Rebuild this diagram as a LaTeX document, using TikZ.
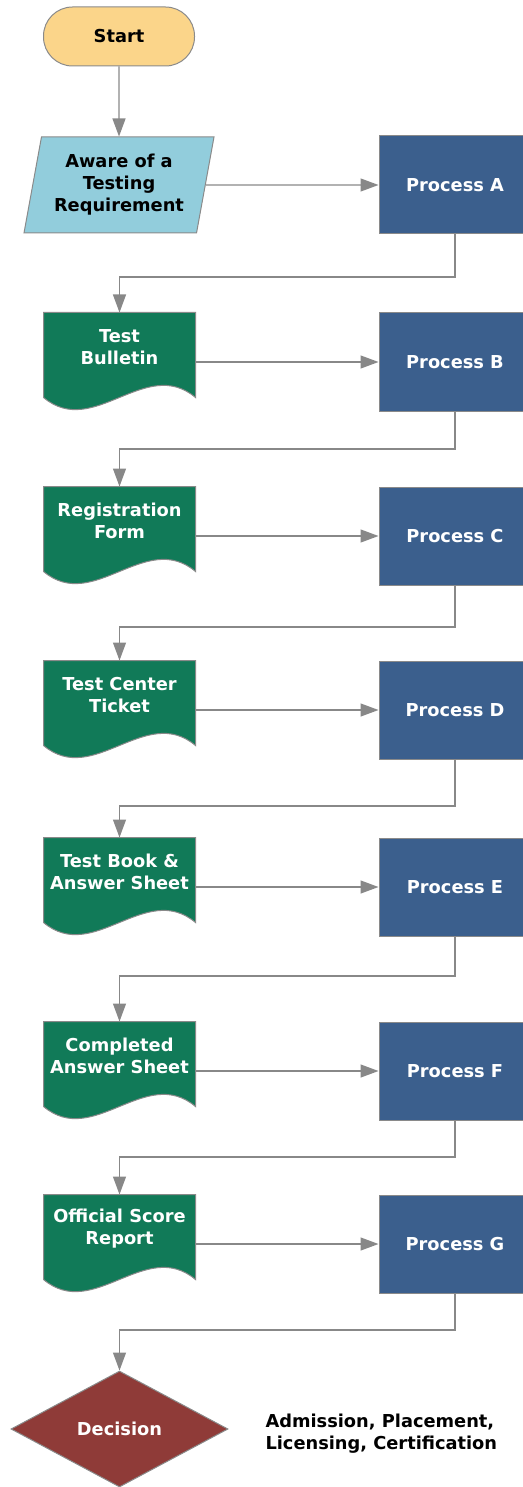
\documentclass[tikz,border=0pt]{standalone}
\usepackage{fontspec}
\setmainfont{DejaVu Sans}
\usetikzlibrary{shapes.geometric,arrows.meta,backgrounds}

\definecolor{startfill}{HTML}{FBD58A}
\definecolor{inputfill}{HTML}{92CDDC}
\definecolor{docfill}{HTML}{117A58}
\definecolor{procfill}{HTML}{3B5F8D}
\definecolor{decfill}{HTML}{8F3B38}
\definecolor{boxline}{HTML}{8A8A8A}
\definecolor{connline}{HTML}{888888}

\tikzset{
  box/.style={draw=boxline, line width=1pt, inner sep=2pt, align=center,
    font=\bfseries\fontsize{17.8}{22}\selectfont},
  terminal/.style={box, fill=startfill, rounded corners=29pt,
    minimum width=151pt, minimum height=59pt},
  inputbox/.style={box, trapezium, trapezium left angle=75, trapezium right angle=105,
    trapezium stretches body, fill=inputfill, minimum width=190pt, minimum height=96pt},
  procbox/.style={box, fill=procfill, text=white, minimum width=152pt, minimum height=98pt},
  docbox/.style={box, draw=none, text=white, minimum width=151pt, minimum height=68pt},
  docshape/.style={draw=boxline, line width=1pt, fill=docfill},
  decision/.style={box, diamond, fill=decfill, text=white, inner sep=0pt,
    minimum width=217pt, minimum height=116pt},
  conn/.style={draw=connline, line width=1.3pt, -{Triangle[length=18pt,width=13pt]}},
}

\begin{document}
\begin{tikzpicture}[x=1pt, y=-1pt]

\useasboundingbox (0,0) rectangle (522,1487);

\node[terminal] (start) at (119,36.5) {Start};
\node[inputbox] (aware) at (119,185) {Aware of a\\Testing\\Requirement};
\node[procbox] (procA) at (455,185) {Process A};

\draw[conn] (start.south) -- (aware.north);
\draw[conn] (aware.east) -- (procA.west);

% one row per document: doc top, connector level
\foreach \p/\q/\y/\cy/\txt in {A/B/313/277/{Test\\Bulletin},
  B/C/487/449/{Registration\\Form},
  C/D/661/627/{Test Center\\Ticket},
  D/E/838/806/{Test Book \&\\Answer Sheet},
  E/F/1022/976/{Completed\\Answer Sheet},
  F/G/1195/1157/{Official Score\\Report}}
{
  \node[docbox] (doc\q) at (119.5,\y+34) {\txt};
  \begin{scope}[on background layer]
    \draw[docshape] (doc\q.north west) -- (doc\q.north east)
      -- ([yshift=-16pt]doc\q.south east) .. controls +(-50,-42) and +(50,42)
      .. ([yshift=-16pt]doc\q.south west) -- cycle;
  \end{scope}
  \node[procbox] (proc\q) at (455,\y+49) {Process \q};
  \draw[conn] (proc\p.south) -- (proc\p.south |- 0,\cy) -| (doc\q.north);
  \draw[conn] (doc\q.east |- proc\q.west) -- (proc\q.west);
}

\node[decision] (decide) at (119.5,1429) {Decision};
\draw[conn] (procG.south) -- (procG.south |- 0,1330) -| (decide.north);

\node[font=\bfseries\fontsize{17.8}{22}\selectfont, align=left, anchor=west]
  (uses) at (262,1433.5) {Admission, Placement,\\Licensing, Certification};

\end{tikzpicture}
\end{document}
